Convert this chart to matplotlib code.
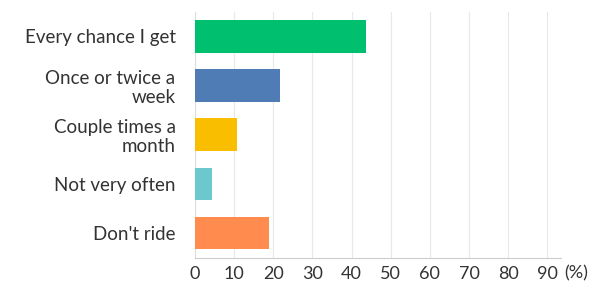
"""Horizontal bar chart of how often people ride."""

import matplotlib
matplotlib.use("Agg")
from matplotlib import pyplot as plt

categories = ["Every chance I get", "Once or twice a\nweek", "Couple times a\nmonth",
              "Not very often", "Don't ride"]
percent = [43.6, 21.6, 10.7, 4.4, 18.9]
colors = ["#00BF6F", "#507CB6", "#F9BE00", "#6BC8CD", "#FF8B4F"]
ticks = [0, 10, 20, 30, 40, 50, 60, 70, 80, 90]

plt.rcParams["font.family"] = ["Lato", "DejaVu Sans"]

fig = plt.figure(figsize=(5.95, 2.83), dpi=100)
ax = fig.add_axes([0.3277, 0.0894, 0.9424 - 0.3277, 0.9587 - 0.0894])

pos = list(range(len(categories)))
ax.barh(pos, percent, height=0.66, color=colors, zorder=3)
ax.set_ylim(4.5, -0.5)
ax.set_xlim(0, 93.4)
ax.set_xticks(ticks)
ax.set_xticklabels([str(t) for t in ticks], fontsize=13, color="#333333")
ax.set_yticks(pos)
ax.set_yticklabels(categories, fontsize=13.5, color="#333333", linespacing=1.15)
ax.tick_params(axis="both", length=0)
ax.tick_params(axis="y", pad=14)
ax.tick_params(axis="x", pad=6)
ax.grid(axis="x", color="#E8E8E8", linewidth=0.8, zorder=0)

for side in ["top", "right"]:
    ax.spines[side].set_visible(False)
ax.spines["left"].set_color("#DDDDDD")
ax.spines["bottom"].set_color("#CCCCCC")

ax.text(1.01, -0.064, "(%)", transform=ax.transAxes, fontsize=13, color="#333333",
        ha="left", va="center")

fig.savefig("out.png", dpi=100)
